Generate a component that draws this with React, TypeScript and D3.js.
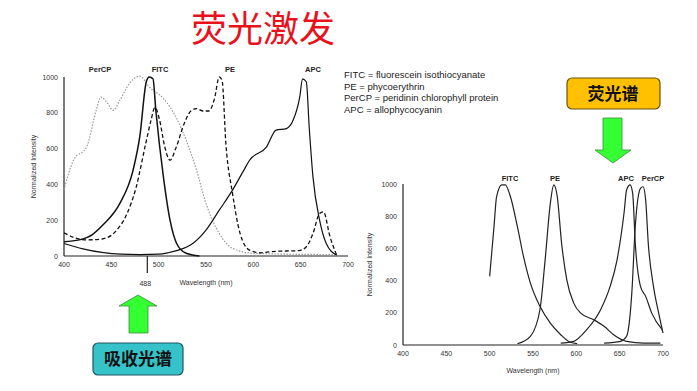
import * as d3 from 'd3';
import { useEffect, useRef } from 'react';

// excitation (absorption) spectra, [wavelength nm, normalized intensity]
const exFITC: [number, number][] = [
  [400, 80], [416, 90], [430, 120], [441, 173], [459, 294], [473, 480], [480, 665],
  [487, 975], [490, 1000], [494, 990], [497, 814], [505, 442], [512, 200],
  [519, 70], [529, 15], [543, 0]
];
const exPE: [number, number][] = [
  [400, 130], [412, 100], [424, 90], [440, 95], [455, 140], [466, 230], [476, 380],
  [486, 620], [492, 760], [496, 830], [501, 760], [506, 620], [512, 535], [518, 600],
  [527, 740], [534, 810], [540, 823], [547, 810], [553, 810], [559, 880], [564, 1000],
  [567, 980], [571, 628], [578, 350], [586, 126], [596, 33], [607, 18], [620, 25],
  [635, 28], [648, 30], [656, 52], [663, 126], [670, 238], [674, 247], [681, 108], [688, 5]
];
const exPerCP: [number, number][] = [
  [400, 370], [410, 535], [424, 610], [434, 814], [439, 888], [445, 860], [452, 814],
  [459, 870], [469, 963], [480, 1005], [490, 944], [505, 880], [519, 768], [529, 647],
  [540, 480], [550, 294], [564, 126], [578, 43], [600, 15], [640, 10], [688, 8]
];
const exAPC: [number, number][] = [
  [400, 70], [420, 40], [440, 20], [460, 10], [480, 8], [500, 10], [510, 18], [519, 30],
  [536, 70], [550, 145], [564, 256], [578, 368], [590, 480], [596, 535], [614, 610],
  [624, 703], [635, 712], [642, 758], [649, 888], [652, 990], [656, 972], [659, 721],
  [663, 442], [670, 200], [677, 70], [688, 5]
];

// emission spectra
const emFITC: [number, number][] = [
  [500, 426], [505, 735], [508, 921], [514, 994], [518, 994], [524, 921], [532, 735],
  [539, 550], [547, 384], [558, 240], [570, 136], [582, 64], [593, 17], [601, 8]
];
const emPE: [number, number][] = [
  [532, 8], [547, 54], [558, 219], [564, 529], [570, 880], [574, 994], [578, 921],
  [583, 632], [589, 405], [597, 260], [605, 198], [620, 157], [632, 116], [643, 64],
  [658, 23], [678, 12], [697, 12]
];
const emAPC: [number, number][] = [
  [582, 12], [597, 23], [612, 95], [628, 219], [639, 364], [647, 529], [655, 818],
  [658, 963], [662, 994], [665, 942], [668, 632], [674, 364], [680, 302], [687, 198], [699, 95]
];
const emPerCP: [number, number][] = [
  [632, 12], [651, 23], [658, 54], [664, 322], [668, 736], [674, 973], [677, 983],
  [680, 900], [683, 632], [689, 364], [695, 198], [700, 74]
];

const xTicks = [400, 450, 500, 550, 600, 650, 700];
const yTicks = [0, 200, 400, 600, 800, 1000];
const legendLines = [
  'FITC = fluorescein isothiocyanate',
  'PE = phycoerythrin',
  'PerCP = peridinin chlorophyll protein',
  'APC = allophycocyanin'
];
const exLabels: [string, number][] = [['PerCP', 100], ['FITC', 160], ['PE', 230], ['APC', 313]];
const emLabels: [string, number][] = [['FITC', 510], ['PE', 555], ['APC', 626], ['PerCP', 653]];

export default function App() {
  const ref = useRef<SVGSVGElement>(null);

  useEffect(() => {
    const svg = d3.select(ref.current);
    svg.selectAll('*').remove();
    const font = 'Liberation Sans, Arial, sans-serif';

    const drawPanel = (
      x0: number, x1: number, y0: number, y1: number,
      series: { data: [number, number][]; stroke: string; dash: string | null; w: number }[],
      labels: [string, number][], labelY: number, titleY: number, yTitleX: number
    ) => {
      const x = d3.scaleLinear().domain([400, 700]).range([x0, x1]);
      const y = d3.scaleLinear().domain([0, 1000]).range([y0, y1]);
      const g = svg.append('g');
      g.append('line').attr('x1', x0).attr('x2', x0).attr('y1', y1).attr('y2', y0)
        .attr('stroke', '#222').attr('stroke-width', 1.2);
      g.append('line').attr('x1', x0).attr('x2', x1).attr('y1', y0).attr('y2', y0)
        .attr('stroke', '#222').attr('stroke-width', 1.2);
      g.selectAll('text.xt').data(xTicks).join('text').attr('class', 'xt')
        .attr('x', d => x(d)).attr('y', y0 + 11).attr('text-anchor', 'middle')
        .attr('font-family', font).attr('font-size', 7).attr('fill', '#333').text(d => d);
      g.selectAll('text.yt').data(yTicks).join('text').attr('class', 'yt')
        .attr('x', x0 - 6).attr('y', d => y(d) + 2.5).attr('text-anchor', 'end')
        .attr('font-family', font).attr('font-size', 7).attr('fill', '#333').text(d => d);
      const line = d3.line<[number, number]>().x(d => x(d[0])).y(d => y(d[1]))
        .curve(d3.curveMonotoneX);
      series.forEach(s => {
        g.append('path').attr('d', line(s.data)).attr('fill', 'none')
          .attr('stroke', s.stroke).attr('stroke-width', s.w)
          .attr('stroke-dasharray', s.dash);
      });
      g.selectAll('text.lb').data(labels).join('text').attr('class', 'lb')
        .attr('x', d => d[1]).attr('y', labelY).attr('text-anchor', 'middle')
        .attr('font-family', font).attr('font-size', 7.5).attr('font-weight', 'bold')
        .attr('fill', '#222').text(d => d[0]);
      g.append('text').attr('x', (x0 + x1) / 2).attr('y', titleY).attr('text-anchor', 'middle')
        .attr('font-family', font).attr('font-size', 7).attr('fill', '#333').text('Wavelength (nm)');
      g.append('text').attr('transform', `translate(${yTitleX},${(y0 + y1) / 2}) rotate(-90)`)
        .attr('text-anchor', 'middle').attr('font-family', font).attr('font-size', 7)
        .attr('fill', '#333').text('Normalized Intensity');
      return x;
    };

    const xl = drawPanel(64, 348, 256, 77, [
      { data: exPerCP, stroke: '#999', dash: '1.5,1.5', w: 1.2 },
      { data: exAPC, stroke: '#111', dash: null, w: 1.2 },
      { data: exPE, stroke: '#111', dash: '4,2.5', w: 1.3 },
      { data: exFITC, stroke: '#111', dash: null, w: 1.5 }
    ], exLabels, 72, 285, 36);

    // 488 nm laser marker
    svg.append('line').attr('x1', xl(488)).attr('x2', xl(488)).attr('y1', 256).attr('y2', 273)
      .attr('stroke', '#222').attr('stroke-width', 1.2);
    svg.append('text').attr('x', xl(488) - 2).attr('y', 286).attr('text-anchor', 'middle')
      .attr('font-family', font).attr('font-size', 7).attr('fill', '#333').text('488');

    drawPanel(403, 663, 345, 184, [
      { data: emFITC, stroke: '#222', dash: null, w: 1.2 },
      { data: emPE, stroke: '#222', dash: null, w: 1.2 },
      { data: emAPC, stroke: '#222', dash: null, w: 1.2 },
      { data: emPerCP, stroke: '#222', dash: null, w: 1.2 }
    ], emLabels, 181, 373, 372);

    // legend
    svg.selectAll('text.lg').data(legendLines).join('text').attr('class', 'lg')
      .attr('x', 344).attr('y', (d, i) => 78 + i * 11.5).attr('font-family', font)
      .attr('font-size', 9.5).attr('fill', '#222').text(d => d);

    // title
    svg.append('text').attr('x', 263).attr('y', 42).attr('text-anchor', 'middle')
      .attr('font-family', 'Noto Sans CJK SC').attr('font-size', 36).attr('fill', '#e8121c')
      .text('荧光激发');

    // up arrow + absorption box
    svg.append('path').attr('d', 'M138,295 L157,306 L148,306 L148,333 L129,333 L129,306 L119,306 Z')
      .attr('fill', '#33ff33').attr('stroke', '#3a8a3a').attr('stroke-width', 0.8);
    svg.append('rect').attr('x', 93).attr('y', 343).attr('width', 90).attr('height', 32).attr('rx', 5)
      .attr('fill', '#36c2c9').attr('stroke', '#1f5560').attr('stroke-width', 1.2);
    svg.append('text').attr('x', 138).attr('y', 365).attr('text-anchor', 'middle')
      .attr('font-family', 'Noto Sans CJK SC').attr('font-weight', 'bold').attr('font-size', 17)
      .attr('fill', '#111').text('吸收光谱');

    // emission box + down arrow
    svg.append('rect').attr('x', 567).attr('y', 78).attr('width', 93).attr('height', 31).attr('rx', 5)
      .attr('fill', '#ffc000').attr('stroke', '#6b5312').attr('stroke-width', 1.2);
    svg.append('text').attr('x', 613).attr('y', 100).attr('text-anchor', 'middle')
      .attr('font-family', 'Noto Sans CJK SC').attr('font-weight', 'bold').attr('font-size', 17)
      .attr('fill', '#111').text('荧光谱');
    svg.append('path').attr('d', 'M603,118 L622,118 L622,150 L631,150 L613,163 L595,150 L603,150 Z')
      .attr('fill', '#33ff33').attr('stroke', '#3a8a3a').attr('stroke-width', 0.8);
  }, []);

  return (
    <div style={{ position: 'fixed', left: 0, top: 0, width: 697, height: 391, background: '#fff' }}>
      <svg ref={ref} width={697} height={391}></svg>
    </div>
  );
}
